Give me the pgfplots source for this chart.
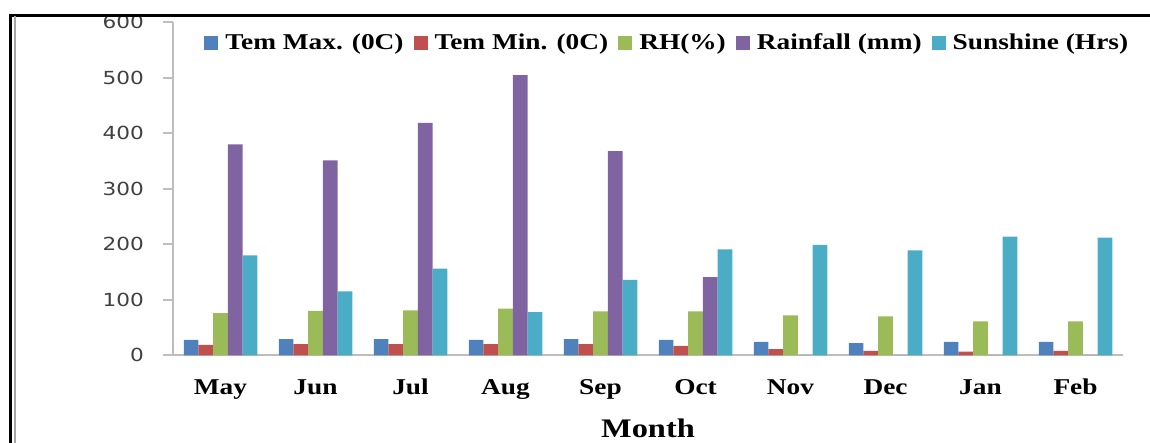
\documentclass[border=0pt]{standalone}
\usepackage{fontspec}
\usepackage{pgfplots}
\pgfplotsset{compat=1.18}
\newfontfamily\legfont[FakeStretch=1.21]{Liberation Serif}
\newfontfamily\tickfont[FakeStretch=1.2]{DejaVu Sans}
\definecolor{cMax}{HTML}{4F81BD}
\definecolor{cMin}{HTML}{C0504D}
\definecolor{cRH}{HTML}{9BBB59}
\definecolor{cRain}{HTML}{8064A2}
\definecolor{cSun}{HTML}{4BACC6}
\definecolor{tickgray}{HTML}{404040}
\definecolor{axgray}{HTML}{BEBEBE}
\begin{document}
\begin{tikzpicture}
\path[use as bounding box] (0,0) rectangle (575pt,221.5pt);
\begin{axis}[
  at={(86.5pt,43.85pt)}, anchor=south west,
  scale only axis, width=475pt, height=166.5pt,
  ybar=0pt, bar width=7.35pt,
  xmin=-0.5, xmax=9.5, ymin=0, ymax=600,
  ytick={0,100,...,600},
  xtick={0,...,9},
  xticklabels={May,Jun,Jul,Aug,Sep,Oct,Nov,Dec,Jan,Feb},
  axis x line*=bottom, axis y line*=left,
  axis line style={-, draw=axgray, line width=0.8pt},
  tick align=outside, major tick length=5pt,
  xtick style={draw=none},
  ytick style={draw=axgray, line width=0.8pt},
  /pgf/number format/assume math mode=true,
  yticklabel style={font=\tickfont\fontsize{9}{10}\selectfont, text=tickgray, xshift=-6pt},
  xticklabel style={font=\legfont\bfseries\fontsize{11.3}{12}\selectfont, anchor=base, yshift=-14.5pt},
  xlabel={Month},
  xlabel style={font=\legfont\bfseries\fontsize{13.4}{14}\selectfont, at={(rel axis cs:0.5,0)}, anchor=base, yshift=-41pt},
  legend columns=5,
  legend style={draw=none, fill=none, at={(rel axis cs:0.0326,0.938)}, anchor=west,
    font=\legfont\bfseries\fontsize{11.3}{12}\selectfont, inner sep=0pt,
    nodes={inner sep=0pt},
    /tikz/every odd column/.append style={column sep=3.5pt},
    /tikz/every even column/.append style={column sep=5pt}},
  legend image code/.code={\fill[#1] (0pt,-3.5pt) rectangle (7pt,3.5pt);},
  every axis plot/.append style={draw=none},
]
\addplot[fill=cMax] coordinates {(0,28) (1,29) (2,29) (3,28) (4,29) (5,28) (6,24) (7,22) (8,24) (9,24)};
\addplot[fill=cMin] coordinates {(0,19) (1,20) (2,20) (3,20) (4,20) (5,17) (6,11) (7,8) (8,6.5) (9,8)};
\addplot[fill=cRH] coordinates {(0,76) (1,80) (2,81) (3,84) (4,79) (5,79) (6,72) (7,70) (8,61) (9,61)};
\addplot[fill=cRain] coordinates {(0,380) (1,351) (2,419) (3,505) (4,368) (5,141) (6,0) (7,0) (8,0) (9,0)};
\addplot[fill=cSun] coordinates {(0,180) (1,115) (2,156) (3,78) (4,136) (5,191) (6,199) (7,189) (8,214) (9,212)};
\legend{Tem Max. (0C),Tem Min. (0C),RH(\%),Rainfall (mm),Sunshine (Hrs)}
\end{axis}
\draw[line width=1.25pt] (4.5pt,213.85pt) -- (575pt,213.85pt);
\draw[line width=1.5pt] (5.25pt,0pt) -- (5.25pt,214.4pt);
\draw[line width=1pt, gray!70] (7.5pt,0pt) -- (7.5pt,213.3pt);
\end{tikzpicture}
\end{document}
